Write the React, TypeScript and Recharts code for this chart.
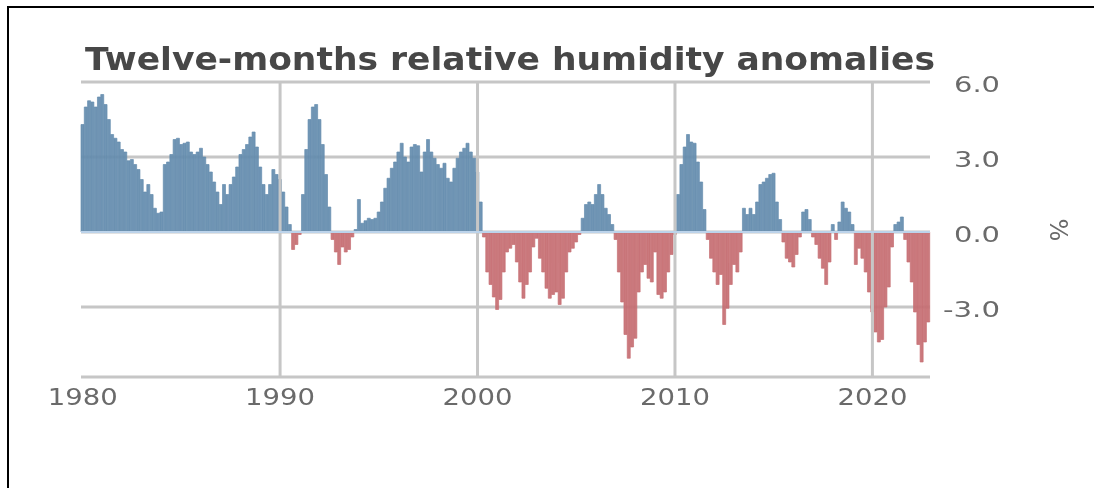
import React from 'react';
import { BarChart, Bar, XAxis, YAxis, CartesianGrid, ReferenceLine, Cell } from 'recharts';

// twelve-month RH anomalies (%), two-month steps, six values per year
const anom1980s = [
  4.3, 5.0, 5.25, 5.2, 5.0, 5.4,
  5.5, 5.1, 4.5, 3.9, 3.75, 3.6,
  3.3, 3.2, 2.85, 2.9, 2.7, 2.5,
  2.1, 1.6, 1.9, 1.5, 0.95, 0.75,
  0.8, 2.7, 2.8, 3.1, 3.7, 3.75,
  3.5, 3.55, 3.6, 3.2, 3.1, 3.2,
  3.35, 3.0, 2.7, 2.4, 2.0, 1.6,
  1.1, 1.9, 1.5, 1.9, 2.2, 2.6,
  3.1, 3.3, 3.5, 3.8, 4.0, 3.4,
  2.6, 1.9, 1.5, 1.9, 2.5, 2.3,
];
const anom1990s = [
  2.1, 1.6, 1.0, 0.3, -0.7, -0.5,
  -0.1, 1.5, 3.3, 4.5, 5.0, 5.1,
  4.5, 3.5, 2.3, 1.0, -0.3, -0.8,
  -1.3, -0.6, -0.8, -0.7, -0.2, 0.1,
  1.3, 0.35, 0.45, 0.55, 0.5, 0.55,
  0.8, 1.2, 1.75, 2.15, 2.55, 2.8,
  3.2, 3.55, 3.0, 2.8, 3.4, 3.5,
  3.45, 2.4, 3.2, 3.7, 3.2, 2.95,
  2.7, 2.55, 2.75, 2.15, 2.0, 2.55,
  2.95, 3.2, 3.35, 3.55, 3.2, 2.95,
];
const anom2000s = [
  2.4, 1.2, -0.2, -1.6, -2.1, -2.6,
  -3.1, -2.7, -1.6, -0.8, -0.65, -0.5,
  -1.2, -2.0, -2.65, -2.1, -1.6, -0.6,
  -0.25, -1.05, -1.6, -2.25, -2.65, -2.5,
  -2.4, -2.9, -2.65, -1.6, -0.8, -0.65,
  -0.4, -0.1, 0.55, 1.1, 1.2, 1.1,
  1.5, 1.9, 1.5, 0.95, 0.7, 0.3,
  -0.3, -1.6, -2.8, -4.1, -5.05, -4.6,
  -4.25, -2.4, -1.6, -1.3, -1.85, -2.0,
  -0.8, -2.5, -2.65, -2.4, -1.6, -0.9,
];
const anom2010s = [
  -0.1, 1.5, 2.7, 3.4, 3.9, 3.6,
  3.55, 2.8, 2.0, 0.9, -0.3, -1.05,
  -1.6, -2.1, -1.7, -3.7, -3.05, -2.1,
  -1.3, -1.6, -0.8, 0.95, 0.7, 0.95,
  0.7, 1.2, 1.9, 2.0, 2.15, 2.3,
  2.35, 1.2, 0.5, -0.4, -1.05, -1.2,
  -1.4, -0.9, -0.2, 0.8, 0.9, 0.5,
  -0.2, -0.5, -1.05, -1.45, -2.1, -1.2,
  0.3, -0.3, 0.4, 1.2, 0.95, 0.8,
  0.3, -1.3, -0.65, -1.05, -1.6, -2.4,
];
const anom2020s = [
  -3.2, -4.0, -4.4, -4.3, -3.0, -2.2,
  -0.6, 0.3, 0.4, 0.6, -0.3, -1.2,
  -2.0, -3.2, -4.5, -5.2, -4.4, -3.6,
];

const startYear = 1980;
const xTickYears = [1980, 1990, 2000, 2010, 2020];
const gridYears = [1990, 2000, 2010, 2020];
const yTicks = [-3, 0, 3, 6];

const values = [...anom1980s, ...anom1990s, ...anom2000s, ...anom2010s, ...anom2020s];
const data = values.map((v, i) => ({
  period: `${startYear + Math.floor(i / 6)}-${(i % 6) + 1}`,
  value: v,
}));

const FONT = '"DejaVu Sans", Verdana, sans-serif';
const GRID = '#c6c6c6';
const BLUE = '#648cae';
const RED = '#c66e72';

const XTick = ({ x, y, payload }: any) => (
  <text x={x} y={y + 20} textAnchor="middle" fontSize={23} fill="#6a6a6a" fontFamily={FONT}
    textLength={70} lengthAdjust="spacingAndGlyphs">
    {String(payload.value).slice(0, 4)}
  </text>
);

const YTick = ({ x, y, payload }: any) => {
  const label = Number(payload.value).toFixed(1);
  return (
    <text x={x + 62} y={y + 10} textAnchor="end" fontSize={21} fill="#6a6a6a" fontFamily={FONT}
      textLength={label.length > 3 ? 57 : 46} lengthAdjust="spacingAndGlyphs">
      {label}
    </text>
  );
};

export default function App() {
  return (
    <div style={{ position: 'relative', width: 1078, height: 470 }}>
      <div style={{
        position: 'fixed', left: 7, top: 6, width: 1087, height: 482, boxSizing: 'border-box',
        borderLeft: '2px solid #000', borderTop: '2px solid #000',
      }} />
      <BarChart width={1078} height={470} data={data} barCategoryGap={0} barGap={0}
        margin={{ top: 74, left: 73, right: 76, bottom: 61 }}>
        <CartesianGrid vertical={false} stroke={GRID} strokeWidth={3} />
        <XAxis dataKey="period" ticks={xTickYears.map((y) => `${y}-1`)} interval={0}
          tickLine={false} axisLine={false} height={40} tick={<XTick />} />
        <YAxis orientation="right" domain={[-5.8, 6]} ticks={yTicks} interval={0}
          allowDataOverflow tickLine={false} axisLine={false} width={80} tick={<YTick />} />
        {gridYears.map((y) => (
          <ReferenceLine key={y} x={`${y}-1`} stroke={GRID} strokeWidth={3} />
        ))}
        <Bar dataKey="value" isAnimationActive={false} fillOpacity={0.92}>
          {data.map((d) => {
            const c = d.value >= 0 ? BLUE : RED;
            return <Cell key={d.period} fill={c} stroke={c} strokeOpacity={0.85} strokeWidth={0.8} />;
          })}
        </Bar>
        <ReferenceLine y={0} stroke="#bcd3ea" strokeWidth={2} />
      </BarChart>
      <svg width={1078} height={470} style={{ position: 'absolute', left: 0, top: 0, pointerEvents: 'none' }}>
        <text x={77} y={62} fontSize={32} fontWeight="bold" fill="#474747" fontFamily={FONT}
          textLength={850} lengthAdjust="spacingAndGlyphs">
          Twelve-months relative humidity anomalies
        </text>
        <text x={0} y={0} transform="translate(1050,222) rotate(90)" textAnchor="middle"
          dominantBaseline="central" fontSize={24} fill="#6a6a6a" fontFamily={FONT}>
          %
        </text>
      </svg>
    </div>
  );
}
